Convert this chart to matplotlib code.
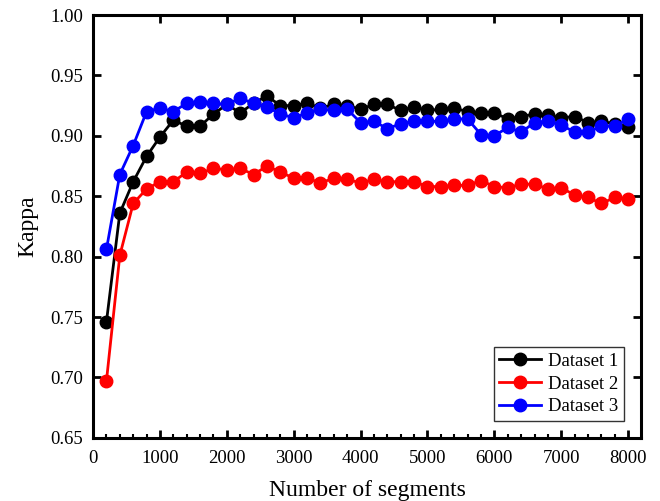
import matplotlib.pyplot as plt
from matplotlib.ticker import MultipleLocator
import numpy as np

# number of segments (200 .. 8000)
segments = list(range(200, 8001, 200))

kappa_1 = [0.746, 0.836, 0.862, 0.883, 0.899, 0.913, 0.908, 0.908, 0.918, 0.926,
           0.919, 0.927, 0.933, 0.925, 0.925, 0.927, 0.923, 0.926, 0.925, 0.922,
           0.926, 0.926, 0.921, 0.924, 0.921, 0.922, 0.923, 0.920, 0.919, 0.919,
           0.914, 0.916, 0.918, 0.917, 0.915, 0.916, 0.911, 0.912, 0.910, 0.907]
kappa_2 = [0.697, 0.801, 0.844, 0.856, 0.862, 0.862, 0.870, 0.869, 0.873, 0.872,
           0.873, 0.868, 0.875, 0.870, 0.865, 0.865, 0.861, 0.865, 0.864, 0.861,
           0.864, 0.862, 0.862, 0.862, 0.858, 0.858, 0.859, 0.859, 0.863, 0.858,
           0.857, 0.860, 0.860, 0.856, 0.857, 0.851, 0.849, 0.844, 0.849, 0.848]
kappa_3 = [0.806, 0.868, 0.892, 0.920, 0.923, 0.920, 0.927, 0.928, 0.927, 0.926,
           0.931, 0.927, 0.924, 0.918, 0.915, 0.919, 0.922, 0.921, 0.922, 0.911,
           0.912, 0.906, 0.910, 0.912, 0.912, 0.912, 0.914, 0.914, 0.901, 0.900,
           0.907, 0.903, 0.911, 0.912, 0.909, 0.903, 0.903, 0.908, 0.908, 0.914]

labels = ['Dataset 1', 'Dataset 2', 'Dataset 3']
colors = ['black', 'red', 'blue']

plt.rcParams['font.family'] = ['Liberation Serif', 'DejaVu Serif']

fig = plt.figure(figsize=(6.6, 5.01), dpi=100)
ax = fig.add_axes([0.141, 0.126, 0.830, 0.844])

for vals, lab, c in zip([kappa_1, kappa_2, kappa_3], labels, colors):
    ax.plot(segments, vals, '-o', color=c, lw=2.0, ms=9, label=lab)

ax.set_xlim(0, 8190)
ax.set_ylim(0.65, 1.00)
ax.xaxis.set_major_locator(MultipleLocator(1000))
ax.xaxis.set_minor_locator(MultipleLocator(200))
ax.yaxis.set_major_locator(MultipleLocator(0.05))
ax.yaxis.set_major_formatter(plt.FormatStrFormatter('%.2f'))

ax.tick_params(which='major', direction='in', length=6, width=2, labelsize=13.5,
               top=True, right=True)
ax.tick_params(axis='x', which='major', pad=9)
ax.tick_params(axis='y', which='major', pad=7)
ax.tick_params(which='minor', direction='in', length=3, width=1.5,
               top=False, right=False)
for s in ax.spines.values():
    s.set_linewidth(2.2)

ax.set_xlabel('Number of segments', fontsize=17, labelpad=9)
ax.set_ylabel('Kappa', fontsize=17, labelpad=9)

leg = ax.legend(loc='lower right', fontsize=13.5, frameon=True, fancybox=False,
                edgecolor='black', handlelength=2.2, labelspacing=0.3,
                borderpad=0.3, handletextpad=0.4, borderaxespad=0.9)
leg.get_frame().set_linewidth(1.0)

fig.savefig('out.png', dpi=100)
